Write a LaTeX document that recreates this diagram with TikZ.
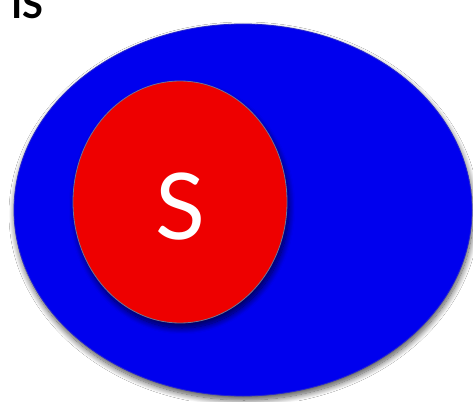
\documentclass[tikz,border=0pt]{standalone}
\usepackage{fontspec}
\setmainfont{Lato}
\usetikzlibrary{shapes.geometric,shadows.blur}
\definecolor{setblue}{RGB}{0,0,238}
\definecolor{setred}{RGB}{238,0,0}
\definecolor{rimgray}{RGB}{110,115,150}
\tikzset{
  setshape/.style={ellipse, draw=rimgray, line width=0.8pt, inner sep=0pt},
  bigset/.style={setshape, fill=setblue, draw=setblue!70!gray,
    minimum width=458pt, minimum height=372pt,
    blur shadow={shadow xshift=1pt, shadow yshift=-4pt, shadow blur steps=14, shadow blur radius=6pt, shadow opacity=70}},
  smallset/.style={setshape, fill=setred,
    minimum width=214pt, minimum height=242pt,
    blur shadow={shadow xshift=2pt, shadow yshift=-5pt, shadow blur steps=12, shadow blur radius=6pt, shadow opacity=65}},
  setlabel/.style={text=white, font=\fontsize{92}{92}\selectfont},
  titletext/.style={text=black, font=\bfseries\fontsize{38}{38}\selectfont, inner sep=0pt}
}
\begin{document}
\begin{tikzpicture}[x=1pt,y=-1pt]
\useasboundingbox (0,0) rectangle (473,401);
\clip (0,0) rectangle (473,401);
\fill[white] (0,0) rectangle (473,401);
\node[bigset] (big) at (243,210) {};
\node[smallset] (small) at (180,202) {};
\node[setlabel] (s) at (180,207) {S};
\node[titletext, anchor=base west] (t) at (11,19) {IS};
\end{tikzpicture}
\end{document}
